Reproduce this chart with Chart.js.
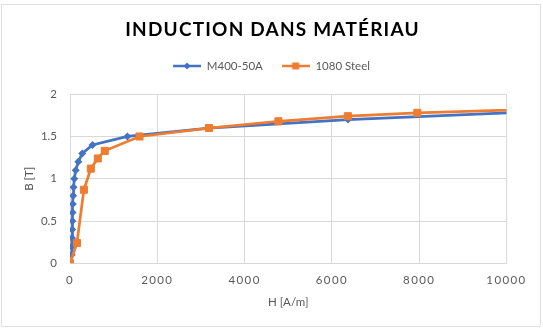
<!DOCTYPE html>
<html>
<head>
<meta charset="utf-8">
<script src="https://cdn.jsdelivr.net/npm/chart.js@4.4.1/dist/chart.umd.min.js"></script>
<style>
  html, body { margin: 0; padding: 0; background: #fff; }
  #wrap { position: relative; width: 543px; height: 329px; }
  #frame { position: absolute; left: 1px; top: 4px; width: 538px; height: 321px; border: 1px solid #e0e0e0; pointer-events: none; }
</style>
</head>
<body>
<div id="wrap">
  <canvas id="chart" width="543" height="329"></canvas>
  <div id="frame"></div>
</div>
<script>
// M400-50A (H in A/m, B in T)
const m400H = [38, 42, 46, 50, 54, 59, 65, 72, 82, 99, 130, 190, 280, 515, 1315, 3180, 6370, 11000];
const m400B = [0.1, 0.2, 0.3, 0.4, 0.5, 0.6, 0.7, 0.8, 0.9, 1.0, 1.1, 1.2, 1.3, 1.4, 1.5, 1.6, 1.7, 1.8];
// 1080 Steel
const steelH = [0, 159, 318, 477, 637, 796, 1592, 3183, 4775, 6366, 7958, 15915];
const steelB = [0, 0.24, 0.87, 1.12, 1.24, 1.33, 1.5, 1.6, 1.68, 1.74, 1.78, 1.9];
const xTicks = [0, 2000, 4000, 6000, 8000, 10000];
const yTicks = [0, 0.5, 1, 1.5, 2];

const blue = "#4472C4";
const orange = "#ED7D31";
const grey = "#595959";
const font = "Lato";

function toPoints(xs, ys) {
  return xs.map((x, i) => ({ x: x, y: ys[i] }));
}

// legend icons: line with marker
function legendIcon(color, shape) {
  const c = document.createElement("canvas");
  c.width = 28;
  c.height = 10;
  const g = c.getContext("2d");
  g.strokeStyle = color;
  g.fillStyle = color;
  g.lineWidth = 2.5;
  g.beginPath();
  g.moveTo(0, 5);
  g.lineTo(28, 5);
  g.stroke();
  g.beginPath();
  if (shape === "diamond") {
    g.moveTo(14, 1.5);
    g.lineTo(17.5, 5);
    g.lineTo(14, 8.5);
    g.lineTo(10.5, 5);
    g.closePath();
    g.fill();
  } else {
    g.fillRect(10.5, 1.5, 7, 7);
  }
  return c;
}
const icons = [legendIcon(blue, "diamond"), legendIcon(orange, "square")];

// letter spacing for title and x tick labels, extra room under the legend
const tweaks = {
  id: "tweaks",
  afterInit(chart) {
    const t = chart.titleBlock;
    const draw = t.draw;
    t.draw = function () {
      const c = this.ctx;
      c.save();
      c.letterSpacing = "1.2px";
      c.translate(1, 0);
      draw.call(this);
      c.restore();
    };
    const lg = chart.legend;
    const fit = lg.fit;
    lg.fit = function () {
      fit.call(this);
      this.height += 12.5;
    };
  },
  beforeDraw(chart) {
    const sx = chart.scales.x;
    if (sx._spaced) return;
    const dl = sx.drawLabels;
    sx.drawLabels = function (area) {
      const c = this.ctx;
      c.save();
      c.letterSpacing = "1.4px";
      dl.call(this, area);
      c.restore();
    };
    sx._spaced = true;
  },
};

const chart = new Chart(document.getElementById("chart"), {
  type: "scatter",
  data: {
    datasets: [
      {
        label: "M400-50A",
        data: toPoints(m400H, m400B),
        showLine: true,
        borderColor: blue,
        backgroundColor: blue,
        borderWidth: 2.75,
        pointStyle: "rectRot",
        pointRadius: 4,
        pointBorderWidth: 0,
        order: 2,
      },
      {
        label: "1080 Steel",
        data: toPoints(steelH, steelB),
        showLine: true,
        borderColor: orange,
        backgroundColor: orange,
        borderWidth: 2.75,
        pointStyle: "rect",
        pointRadius: 5,
        pointBorderWidth: 1,
        order: 1,
      },
    ],
  },
  options: {
    responsive: false,
    animation: false,
    devicePixelRatio: 1,
    layout: { padding: { left: 0, right: 0, top: 0, bottom: 0 } },
    plugins: {
      tooltip: { enabled: false },
      title: {
        display: true,
        text: "INDUCTION DANS MATÉRIAU",
        color: "#000",
        font: { family: font, size: 19, weight: "bold" },
        padding: { top: 18.6, bottom: 0 },
      },
      legend: {
        display: true,
        position: "top",
        labels: {
          color: grey,
          font: { family: font, size: 11.5 },
          usePointStyle: true,
          pointStyleWidth: 28,
          padding: 18.8,
          sort: (a, b) => a.datasetIndex - b.datasetIndex,
          generateLabels(chart) {
            const items = Chart.defaults.plugins.legend.labels.generateLabels(chart);
            items.forEach((it) => (it.pointStyle = icons[it.datasetIndex]));
            return items;
          },
        },
      },
    },
    scales: {
      x: {
        type: "linear",
        min: 0,
        max: 10000,
        afterBuildTicks(scale) {
          scale.ticks = xTicks.map((v) => ({ value: v }));
        },
        afterFit(scale) {
          scale.height = 65.7;
          scale.paddingRight = 36.5;
        },
        grid: { color: "#D9D9D9", drawTicks: false },
        border: { color: "#D9D9D9" },
        ticks: {
          color: grey,
          font: { family: font, size: 11.5 },
          padding: 10.5,
          maxRotation: 0,
          callback: (v) => String(v),
        },
        title: {
          display: true,
          text: "H [A/m]",
          color: grey,
          font: { family: font, size: 11.5 },
          padding: { top: 0, bottom: 19.6 },
        },
      },
      y: {
        type: "linear",
        min: 0,
        max: 2,
        afterBuildTicks(scale) {
          scale.ticks = yTicks.map((v) => ({ value: v }));
        },
        afterFit(scale) {
          scale.width = 70;
        },
        grid: { color: "#D9D9D9", drawTicks: false },
        border: { color: "#D9D9D9" },
        ticks: {
          color: grey,
          font: { family: font, size: 11.5 },
          padding: 13,
          callback: (v) => String(v),
        },
        title: {
          display: true,
          text: "B [T]",
          color: grey,
          font: { family: font, size: 11.5 },
          padding: { top: 22.6, bottom: 0 },
        },
      },
    },
  },
  plugins: [tweaks],
});
chart.draw();
</script>
</body>
</html>
